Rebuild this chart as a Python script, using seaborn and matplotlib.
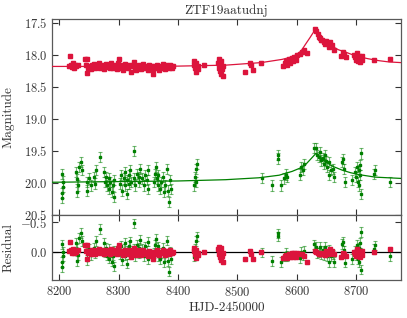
import numpy as np
import matplotlib
matplotlib.use('Agg')
import matplotlib.pyplot as plt
import seaborn as sns

# Style
sns.set_style('ticks')
plt.rcParams['font.family'] = 'serif'
plt.rcParams['font.serif'] = ['cmr10']
plt.rcParams['mathtext.fontset'] = 'cm'
plt.rcParams['axes.formatter.use_mathtext'] = True

RED = '#DC143C'
GREEN = '#008000'

# ---------------------------------------------------------------------------
# Data (HJD-2450000, magnitude)
# ---------------------------------------------------------------------------
red_jd = [
    8216, 8218, 8219, 8221, 8223, 8225, 8227, 8229, 8231,
    8243, 8245, 8247, 8247.5, 8249, 8251, 8253, 8255, 8257, 8259,
    8261, 8263, 8265, 8267, 8269, 8271, 8273, 8275, 8277, 8279,
    8281, 8283, 8285, 8287, 8289, 8291, 8293, 8295, 8297, 8299,
    8300, 8302, 8304, 8306, 8308, 8310, 8312, 8314, 8316, 8318,
    8320, 8322, 8324, 8325, 8327, 8329, 8331, 8333, 8335, 8337,
    8339, 8341, 8343, 8345, 8347, 8349, 8351, 8353, 8355, 8357,
    8358, 8360, 8362, 8364, 8366, 8368, 8370, 8372, 8374, 8376,
    8378, 8380, 8382, 8384, 8386, 8388, 8390, 8392,
    8426, 8427, 8428, 8430, 8431, 8433, 8434, 8443,
    8468, 8469, 8469.5, 8470, 8471, 8472, 8473, 8474, 8475, 8476,
    8512, 8521, 8522, 8526, 8540,
    8576, 8580, 8582, 8584, 8587, 8589, 8592, 8593, 8595, 8598, 8600,
    8606, 8609, 8612, 8617,
    8630, 8632, 8635, 8637, 8639, 8641, 8643, 8645, 8647, 8649, 8651,
    8654, 8656, 8659, 8662,
    8675, 8677, 8680, 8683,
    8696, 8697, 8699, 8700, 8701, 8702, 8703, 8704, 8705, 8706, 8707,
    8708, 8709, 8710,
    8729, 8757]
red_mag = [
    18.17, 18.02, 18.15, 18.19, 18.13, 18.20, 18.16, 18.18, 18.15,
    18.07, 18.16, 18.29, 18.06, 18.20, 18.17, 18.22, 18.15, 18.19, 18.14,
    18.21, 18.16, 18.18, 18.13, 18.20, 18.17, 18.15, 18.22, 18.18, 18.14,
    18.19, 18.16, 18.21, 18.13, 18.18, 18.20, 18.15, 18.17, 18.22, 18.12,
    18.06, 18.18, 18.20, 18.16, 18.23, 18.14, 18.19, 18.17, 18.21, 18.15,
    18.27, 18.18, 18.16, 18.11, 18.20, 18.23, 18.17, 18.19, 18.15, 18.22,
    18.18, 18.14, 18.21, 18.17, 18.19, 18.24, 18.16, 18.20, 18.18, 18.22,
    18.30, 18.17, 18.21, 18.15, 18.19, 18.23, 18.17, 18.20, 18.14, 18.18,
    18.22, 18.16, 18.19, 18.21, 18.15, 18.18, 18.20, 18.17,
    18.15, 18.10, 18.20, 18.27, 18.13, 18.18, 18.22, 18.16,
    18.12, 18.20, 18.07, 18.25, 18.16, 18.30, 18.10, 18.22, 18.33, 18.18,
    18.26, 18.12, 18.16, 18.24, 18.12,
    18.17, 18.13, 18.10, 18.15, 18.07, 18.12, 18.05, 18.10, 18.03, 18.08, 18.00,
    17.98, 17.95, 17.93, 17.97,
    17.59, 17.62, 17.68, 17.72, 17.74, 17.77, 17.76, 17.80, 17.83, 17.78, 17.82,
    17.87, 17.80, 17.84, 17.92,
    18.02, 17.96, 17.99, 18.03,
    18.00, 18.04, 18.02, 18.08, 17.97, 18.05, 18.10, 18.01, 18.07, 18.03, 18.11,
    18.05, 18.08, 18.02,
    18.08, 18.06]
red_err = 0.03

green_jd = [
    8204, 8205, 8205.5, 8206, 8207,
    8228.5, 8230, 8230.5, 8232, 8233, 8236, 8238.6,
    8246, 8247, 8250, 8254, 8258, 8260, 8262.6, 8269,
    8275, 8276.6, 8279, 8280.5, 8283, 8284.5, 8286, 8289, 8290.6, 8291.7,
    8293, 8303, 8304.6, 8305.7, 8308.5, 8310, 8311, 8314, 8314.5, 8317,
    8318, 8319.7, 8321, 8325, 8325.5, 8328, 8331, 8333.7, 8335, 8336.5,
    8339, 8342, 8345, 8347.7, 8349, 8350, 8359, 8361.6, 8362.7, 8364.4,
    8366, 8367, 8370, 8371.7, 8374, 8375.6, 8378, 8381, 8383, 8385,
    8385.7, 8388.5,
    8427.6, 8428.7, 8430, 8431, 8432,
    8540.6, 8558.5, 8568, 8568.5, 8574, 8578, 8581, 8583.7,
    8606, 8607.7, 8610, 8611.6,
    8628.4, 8632.3, 8634, 8636.8, 8639.6, 8641, 8643.5, 8645.2, 8646.9, 8649,
    8650.8, 8653.6, 8654.7, 8658, 8660, 8662,
    8676, 8677, 8678.7, 8680.4,
    8692.7, 8697, 8699.4, 8701, 8702.8, 8704, 8705, 8705.5, 8706.7, 8707.2,
    8708.4,
    8729, 8732, 8757]
green_mag = [
    19.86, 20.16, 20.24, 20.06, 19.98,
    19.83, 19.94, 20.14, 20.04, 19.75, 19.67, 19.80,
    19.99, 20.12, 19.93, 20.04, 19.91, 20.01, 19.80, 19.60,
    19.83, 19.99, 19.91, 20.04, 19.93, 20.09, 19.99, 20.14, 20.04, 20.22,
    19.96, 20.01, 19.88, 20.12, 19.93, 19.83, 20.04, 19.96, 20.17, 19.88,
    20.01, 19.80, 19.99, 19.50, 19.93, 20.04, 19.86, 19.99, 19.91, 19.78,
    19.93, 20.04, 19.88, 19.96, 19.80, 20.09, 19.99, 19.86, 19.75, 19.93,
    20.04, 19.88, 20.09, 19.99, 19.91, 20.14, 20.04, 19.78, 20.12, 20.30,
    19.96, 20.09,
    20.04, 19.91, 19.78, 19.99, 19.70,
    19.92, 20.04, 19.57, 19.62, 20.04, 19.93, 19.87, 19.91,
    19.87, 19.75, 19.80, 19.71,
    19.45, 19.46, 19.57, 19.59, 19.52, 19.65, 19.61, 19.70, 19.57, 19.66,
    19.75, 19.67, 19.88, 19.80, 19.78, 19.91,
    19.67, 19.63, 19.78, 19.99,
    19.96, 19.83, 19.91, 19.75, 19.99, 19.80, 20.04, 19.72, 19.88, 19.54,
    20.17,
    19.86, 19.80, 19.99]
green_err = 0.08

# Fitted model curves
red_model_jd = [8188, 8300, 8400, 8480, 8540, 8575, 8592, 8600, 8607, 8614,
                8622, 8631, 8636, 8643, 8650, 8660, 8670, 8683, 8700, 8720,
                8738, 8755, 8775]
red_model_mag = [18.18, 18.18, 18.175, 18.16, 18.12, 18.07, 18.03, 17.99, 17.94, 17.84,
                 17.73, 17.60, 17.68, 17.75, 17.81, 17.87, 17.92, 17.96, 18.02, 18.06,
                 18.09, 18.11, 18.12]
green_model_jd = [8188, 8400, 8480, 8536, 8570, 8592, 8605, 8614, 8622, 8632,
                  8640, 8648, 8660, 8676, 8690, 8704, 8732, 8775]
green_model_mag = [19.99, 19.97, 19.95, 19.92, 19.88, 19.82, 19.77, 19.72, 19.64, 19.54,
                   19.61, 19.67, 19.74, 19.80, 19.84, 19.87, 19.91, 19.93]

# Residuals: data minus model
red_res = np.array(red_mag) - np.interp(red_jd, red_model_jd, red_model_mag)
green_res = np.array(green_mag) - np.interp(green_jd, green_model_jd, green_model_mag)

# ---------------------------------------------------------------------------
fig = plt.figure(figsize=(4.07, 3.18), dpi=100)
gs = fig.add_gridspec(2, 1, height_ratios=[3, 1], hspace=0,
                      left=0.128, right=0.985, top=0.94, bottom=0.119)
ax = fig.add_subplot(gs[0])
axr = fig.add_subplot(gs[1], sharex=ax)

eb_kw = dict(fmt='s', elinewidth=0.8, capsize=1.5, capthick=0.8)

# Light curve
ax.errorbar(green_jd, green_mag, yerr=green_err, ms=2, color=GREEN,
            ecolor=(0, 0.5, 0, 0.55), zorder=2, **eb_kw)
ax.errorbar(red_jd, red_mag, yerr=red_err, ms=2.6, color=RED,
            ecolor=(0.86, 0.08, 0.24, 0.55), zorder=3, **eb_kw)
sns.lineplot(x=green_model_jd, y=green_model_mag, ax=ax, color=GREEN, lw=0.9, zorder=4)
sns.lineplot(x=red_model_jd, y=red_model_mag, ax=ax, color=RED, lw=0.9, zorder=4)

# Residuals
axr.errorbar(green_jd, green_res, yerr=green_err, ms=2, color=GREEN,
             ecolor=(0, 0.5, 0, 0.55), zorder=2, **eb_kw)
axr.errorbar(red_jd, red_res, yerr=red_err, ms=2.6, color=RED,
             ecolor=(0.86, 0.08, 0.24, 0.55), zorder=3, **eb_kw)
axr.axhline(0, color='k', lw=0.9, zorder=1)

ax.set_xlim(8188, 8775)
ax.set_ylim(20.5, 17.44)
ax.set_yticks(np.arange(17.5, 20.51, 0.5))
axr.set_ylim(0.47, -0.62)
axr.set_yticks([-0.5, 0.0])
axr.set_xticks([8200, 8300, 8400, 8500, 8600, 8700])

for a in (ax, axr):
    a.tick_params(direction='in', top=True, right=True, length=4, width=0.8,
                  labelsize=9, colors='0.2')
    for s in a.spines.values():
        s.set_color('0.35')
        s.set_linewidth(0.9)
ax.tick_params(labelbottom=False)

ax.set_title('ZTF19aatudnj', fontsize=9.5, pad=4, color='0.2')
ax.set_ylabel('Magnitude', fontsize=9.5, color='0.2')
axr.set_ylabel('Residual', fontsize=9.5, color='0.2')
axr.set_xlabel('HJD-2450000', fontsize=9.5, color='0.2', labelpad=2)
fig.align_ylabels([ax, axr])

plt.savefig('out.png', dpi=100)
